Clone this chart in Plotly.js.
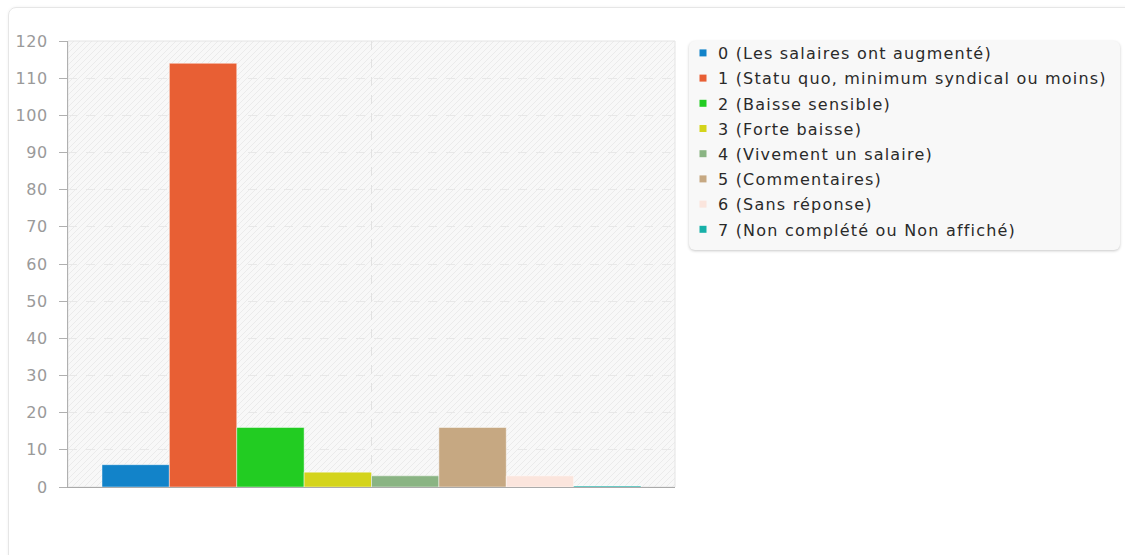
<!DOCTYPE html>
<html>
<head>
<meta charset="utf-8">
<script src="https://cdn.plot.ly/plotly-3.0.1.min.js"></script>
<style>
  html, body { margin: 0; padding: 0; background: #fff; width: 1125px; height: 555px; overflow: hidden; }
  #card { position: absolute; left: 8px; top: 7px; width: 1200px; height: 600px; border: 1px solid #e6e6e6; border-radius: 8px; box-shadow: 0 0 3px rgba(0,0,0,0.06); }
  #legbox { position: absolute; left: 689px; top: 41px; width: 431px; height: 209px; background: #f8f8f8; border-radius: 6px; box-shadow: 0 1px 3px rgba(0,0,0,0.22); }
  #chart { position: absolute; left: 0; top: 0; width: 1125px; height: 555px; }
  #chart .legendtext { letter-spacing: 1.2px; }
  #chart .legendsymbols { transform: translateX(5px); }
  #chart g.legend g.scrollbox { clip-path: none !important; }
  #chart g.legend { clip-path: none !important; }
  #chart .ytick text { letter-spacing: 0.6px; }
</style>
</head>
<body>
<div id="card"></div>
<div id="legbox"></div>
<div id="chart"></div>
<script>
// Data
const categories = [""];
const seriesNames = [
  "0 (Les salaires ont augmenté)",
  "1 (Statu quo, minimum syndical ou moins)",
  "2 (Baisse sensible)",
  "3 (Forte baisse)",
  "4 (Vivement un salaire)",
  "5 (Commentaires)",
  "6 (Sans réponse)",
  "7 (Non complété ou Non affiché)"
];
const seriesValues = [6, 114, 16, 4, 3, 16, 3, 0.3];
const seriesColors = ["#1283c9", "#e85f34", "#22cc22", "#d4d41c", "#8ab483", "#c6a882", "#fbe5dd", "#17b0a8"];
const yTickVals = [0, 10, 20, 30, 40, 50, 60, 70, 80, 90, 100, 110, 120];

const traces = [];
seriesNames.forEach((name, i) => {
  traces.push({
    type: "bar",
    x: categories,
    y: [seriesValues[i]],
    name: name,
    showlegend: false,
    marker: { color: seriesColors[i], line: { color: "rgba(255,255,255,0.45)", width: 1 } },
    hoverinfo: "none"
  });
});
seriesNames.forEach((name, i) => {
  traces.push({
    type: "scatter",
    mode: "markers",
    x: [null],
    y: [null],
    name: name,
    legendgroup: "g" + i,
    showlegend: true,
    marker: { symbol: "square", size: 7, color: seriesColors[i] },
    hoverinfo: "none"
  });
});

const W = 607, H = 446;
let lines = "";
for (let k = -H; k < W + H; k += 6) {
  lines += `<line x1='${k}' y1='${H}' x2='${k + H}' y2='0' stroke='#ebebeb' stroke-width='1'/>`;
}
const svg = `<svg xmlns='http://www.w3.org/2000/svg' width='${W}' height='${H}' viewBox='0 0 ${W} ${H}' preserveAspectRatio='none'><rect width='${W}' height='${H}' fill='#f8f8f8'/>${lines}</svg>`;
const bgUri = "data:image/svg+xml;charset=utf-8," + encodeURIComponent(svg);

const layout = {
  width: 1125,
  height: 555,
  margin: { l: 68, r: 450, t: 41, b: 68, pad: 0 },
  paper_bgcolor: "rgba(0,0,0,0)",
  plot_bgcolor: "rgba(0,0,0,0)",
  font: { family: "DejaVu Sans", color: "#333" },
  barmode: "group",
  bargap: 0.112,
  bargroupgap: 0,
  showlegend: true,
  legend: {
    x: (678 - 68) / 607, xanchor: "left",
    y: 1 + 5 / 446, yanchor: "top",
    bgcolor: "rgba(0,0,0,0)",
    borderwidth: 0,
    font: { family: "DejaVu Sans", size: 16, color: "#2a2a2a" },
    tracegroupgap: 1.4,
    traceorder: "grouped",
    itemclick: false
  },
  xaxis: {
    type: "category",
    range: [-0.5, 0.5],
    showticklabels: false,
    showgrid: true,
    gridcolor: "#e2e2e2",
    griddash: "dash",
    gridwidth: 1,
    showline: true,
    linecolor: "#aaaaaa",
    linewidth: 1,
    ticks: "",
    zeroline: false,
    fixedrange: true
  },
  yaxis: {
    range: [0, 120],
    tickvals: yTickVals,
    ticktext: yTickVals.map(String),
    showgrid: true,
    gridcolor: "#e8e8e8",
    griddash: "dash",
    gridwidth: 1,
    showline: true,
    linecolor: "#b0b0b0",
    linewidth: 1,
    ticks: "outside",
    ticklen: 8,
    tickcolor: "#b0b0b0",
    ticklabelstandoff: 8,
    tickfont: { family: "DejaVu Sans", size: 16, color: "#9a9a9a" },
    zeroline: false,
    fixedrange: true
  },
  images: [{
    source: bgUri,
    xref: "paper", yref: "paper",
    x: 0, y: 1, sizex: 1, sizey: 1,
    xanchor: "left", yanchor: "top",
    sizing: "stretch",
    layer: "below"
  }],
  shapes: [{
    type: "rect", xref: "paper", yref: "paper",
    x0: 0, x1: 1, y0: 0, y1: 1,
    line: { color: "#e4e4e4", width: 1 },
    layer: "below"
  }]
};

Plotly.newPlot("chart", traces, layout, { displayModeBar: false, staticPlot: true });
</script>
</body>
</html>
